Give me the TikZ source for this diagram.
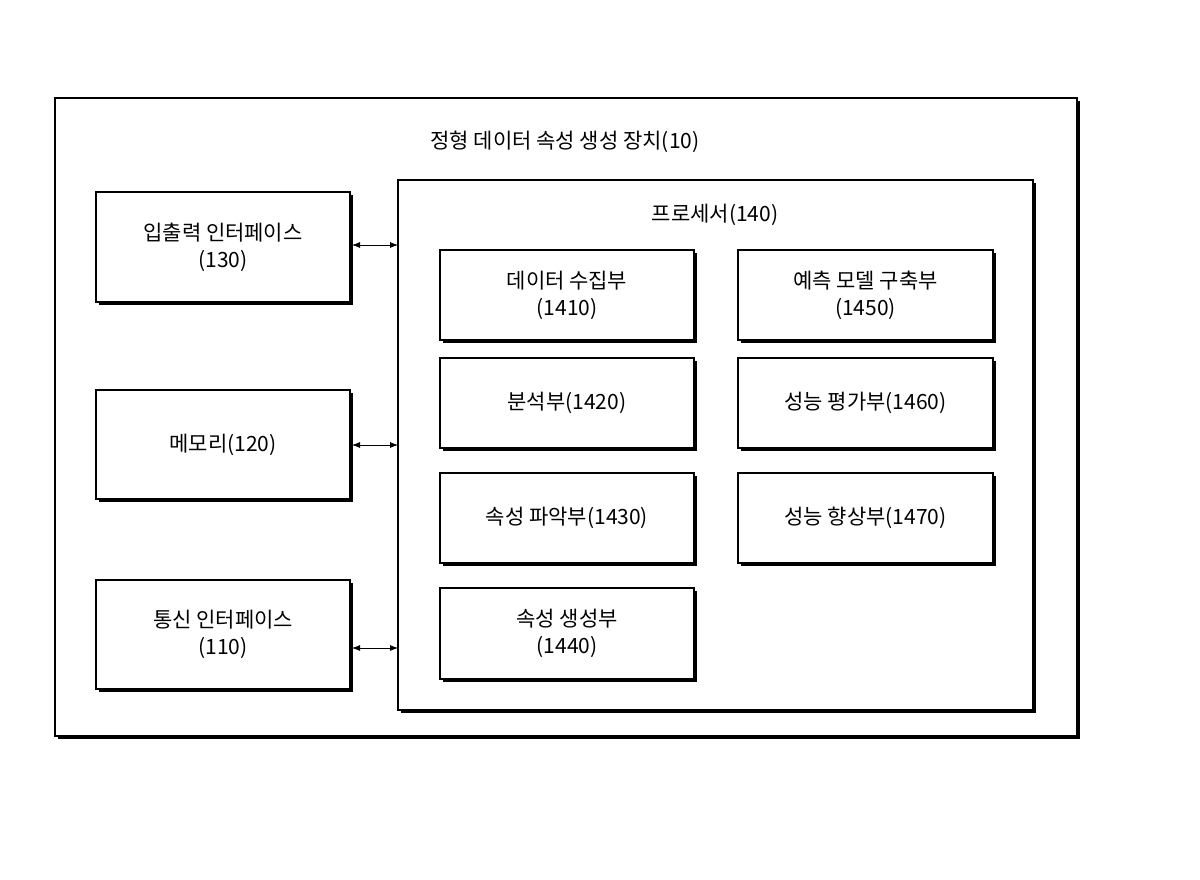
\documentclass[tikz,border=0pt]{standalone}
\usepackage{fontspec}
\setmainfont{Noto Sans CJK KR}
\usetikzlibrary{arrows.meta}
\begin{document}
\begin{tikzpicture}[x=1pt,y=-1pt,
  bx/.style={draw=black,line width=1.2pt,fill=white,align=center,font=\fontsize{21}{27}\selectfont},
  sh/.style={fill=black},
  ar/.style={{Latex[length=8pt,width=6pt]}-{Latex[length=8pt,width=6pt]},line width=0.8pt},
  tt/.style={font=\fontsize{21}{27}\selectfont}]
\useasboundingbox (0,0) rectangle (1200,880);
\newcommand{\shbox}[6]{%
  \fill (#1+3,#2+3) rectangle (#3+3,#4+3);
  \draw[bx] (#1,#2) rectangle (#3,#4);
  \node[tt,align=center] (#5) at ({(#1+#3)/2},{(#2+#4)/2}) {#6};
  \coordinate (#5-w) at (#1,{(#2+#4)/2});
  \coordinate (#5-e) at (#3,{(#2+#4)/2});}
\shbox{55}{98}{1077}{736}{outer}{}
\node[tt] (title) at (565,142) {정형 데이터 속성 생성 장치(10)};
\shbox{398}{180}{1033}{710}{proc}{}
\node[tt] (ptitle) at (715,215) {프로세서(140)};
\shbox{96}{192}{350}{302}{io}{입출력 인터페이스\\(130)}
\shbox{96}{390}{350}{499}{mem}{메모리(120)}
\shbox{96}{580}{350}{689}{comm}{통신 인터페이스\\(110)}
\coordinate (p1) at (398,245);
\coordinate (p2) at (398,445);
\coordinate (p3) at (398,648);
\coordinate (l1) at (352,245);
\coordinate (l2) at (352,445);
\coordinate (l3) at (352,648);
\draw[ar] (l1) -- (p1);
\draw[ar] (l2) -- (p2);
\draw[ar] (l3) -- (p3);
\shbox{440}{250}{694}{340}{a}{데이터 수집부\\(1410)}
\shbox{440}{358}{694}{448}{b}{분석부(1420)}
\shbox{440}{473}{694}{563}{c}{속성 파악부(1430)}
\shbox{440}{588}{694}{679}{d}{속성 생성부\\(1440)}
\shbox{738}{250}{993}{340}{e}{예측 모델 구축부\\(1450)}
\shbox{738}{358}{993}{448}{f}{성능 평가부(1460)}
\shbox{738}{473}{993}{563}{g}{성능 향상부(1470)}
\end{tikzpicture}
\end{document}
